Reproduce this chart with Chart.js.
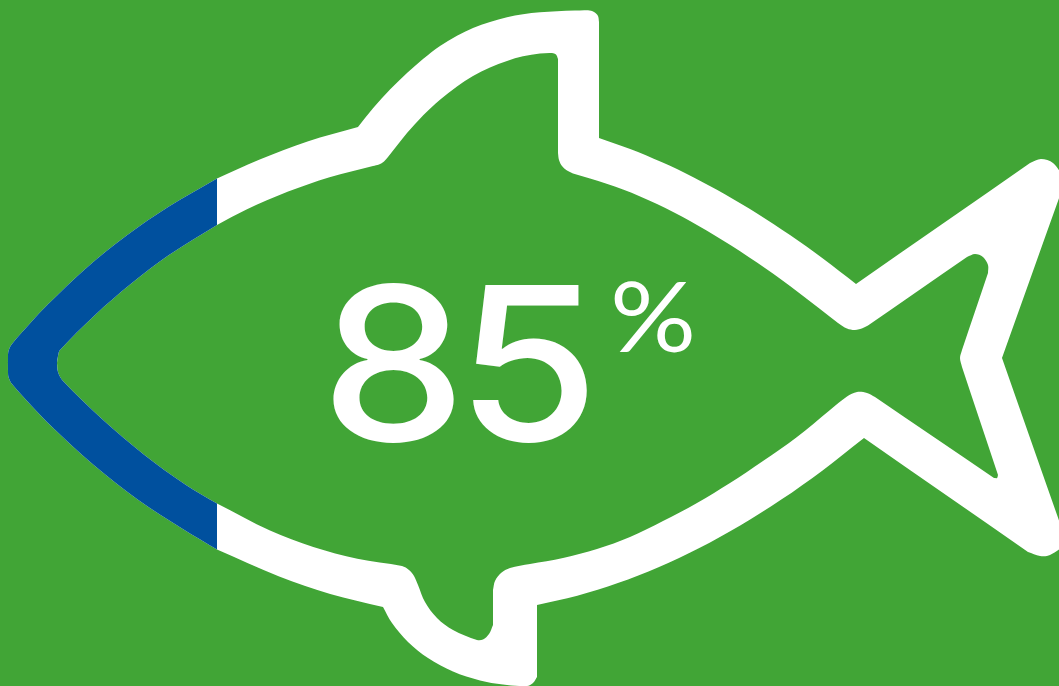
<!DOCTYPE html>
<html>
<head>
<meta charset="utf-8">
<script src="https://cdn.jsdelivr.net/npm/chart.js@4"></script>
<style>
    html, body { margin: 0; padding: 0; background: #41a536; overflow: hidden; }
    #fishChart { display: block; }
</style>
</head>
<body>
<canvas id="fishChart" width="1059" height="686"></canvas>
<script>
// fish silhouette, clockwise from the nose. Points listed twice stay sharp corners
const outerX = [8, 8.5, 12, 29.7, 48, 86.1, 126.3, 168.5, 217, 217, 259.1, 307.5, 358, 358, 373, 390, 407, 423, 440, 457, 473, 490, 507, 523, 540, 557, 575, 588, 594, 598, 599, 599, 599, 599, 630.2, 661.5, 693.3, 725.3, 757.5, 790, 822.9, 856, 856, 1030, 1030, 1041, 1053, 1063, 1063, 1063, 1002, 1002, 1063, 1063, 1063, 1050, 1040, 1028, 1028, 864, 864, 822.6, 781.3, 740.2, 699.3, 658.5, 617.9, 577.3, 537, 537, 537, 537, 533, 527, 503, 480, 453, 428, 408, 392, 383, 383, 330.2, 279.2, 217, 217, 182.8, 137.3, 93.7, 51.9, 31.7, 12, 8.5, 8, 8];
const outerY = [358, 351, 344, 323.8, 304.3, 268.2, 235.7, 206.8, 178.5, 178.5, 159.7, 141.5, 127, 127, 108.3, 89.6, 73, 59, 46, 35.7, 28, 21.9, 17.3, 14.3, 12.3, 11.3, 10.5, 10.3, 12, 16, 22, 22, 138, 138, 149, 162.1, 177.2, 194.5, 213.7, 235.1, 258.5, 284, 284, 163, 163, 159, 163, 178, 187, 187, 358, 358, 532, 532, 545, 555, 556, 552, 552, 438, 438, 470.4, 499.6, 525.5, 548, 567.2, 583.1, 595.7, 605, 605, 677, 677, 683, 686, 684.5, 680.5, 671.5, 658, 642, 623, 607, 607, 593.9, 576.5, 549.5, 549.5, 529, 499.2, 465, 426.7, 405.9, 384, 377, 371, 358];

// inner edge of the white band
const innerX = [57, 58, 60, 94.8, 131, 168.2, 217, 217, 246.5, 287.5, 329.6, 373, 379, 384, 388, 407, 423, 440, 457, 473, 490, 507, 523, 540, 552, 556, 558, 558, 558, 558, 559, 562, 567, 573, 573, 590, 623, 657, 690, 723, 757, 790, 820, 838, 847, 855, 863, 868, 868, 967, 967, 975, 983, 988, 988, 988, 962, 962, 960, 962, 962, 998, 998, 997, 994, 994, 875, 875, 867, 857, 847, 830, 797, 763, 730, 697, 663, 630, 597, 563, 530, 510, 501, 495, 493, 493, 493, 493, 489, 483, 477, 453, 437, 425, 418, 414, 409, 402, 357.4, 313.3, 270, 217, 217, 185.2, 143.8, 103.1, 63, 58, 57];
const innerY = [363, 356, 350, 315.2, 283.8, 255.6, 225, 225, 209.6, 191.8, 177.2, 166, 164.5, 161.5, 157, 133.1, 115.5, 99.7, 86.4, 76, 67.5, 60.9, 56.3, 53.6, 53, 54.5, 59, 59, 153, 153, 160, 166, 170.5, 173.5, 173.5, 178.5, 189.5, 204, 221, 240.5, 262.5, 286, 309, 323, 328.5, 330, 328, 325.5, 325.5, 257, 257, 254, 257, 265, 273, 273, 350, 350, 358, 367, 367, 475, 475, 478, 478, 478, 397, 397, 393, 392, 396.5, 410, 437, 461, 483, 503, 521, 537, 549, 558, 564, 568, 573, 581, 590, 590, 625, 625, 634, 639.5, 640, 630, 618, 602, 585, 576, 570, 566, 558.7, 547, 530.6, 503.5, 503.5, 484.4, 454.4, 420, 381, 372, 363];

// blue part at the nose, outer edge bottom to top then inner edge back down
const noseX = [217, 217, 182.8, 137.3, 93.7, 51.9, 31.7, 12, 8.5, 8, 8, 8.5, 12, 29.7, 48, 86.1, 126.3, 168.5, 217, 217, 217, 217, 168.2, 131, 94.8, 60, 58, 57, 58, 63, 103.1, 143.8, 185.2, 217, 217, 217];
const noseY = [549.5, 549.5, 529, 499.2, 465, 426.7, 405.9, 384, 377, 371, 358, 351, 344, 323.8, 304.3, 268.2, 235.7, 206.8, 178.5, 178.5, 225, 225, 255.6, 283.8, 315.2, 350, 356, 363, 372, 381, 420, 454.4, 484.4, 503.5, 503.5, 549.5];

const shareLabel = '85';
const unitLabel = '%';

const GREEN = '#41a536';
const WHITE = '#ffffff';
const BLUE = '#00509e';

const toPoints = (xs, ys) => xs.map((x, i) => ({x: x, y: ys[i]}));

const shape = (data, color, order) => ({
    data: data,
    order: order,
    showLine: true,
    fill: 'shape',
    backgroundColor: color,
    borderColor: color,
    borderWidth: 0,
    pointRadius: 0,
    tension: 0.33,
    capBezierPoints: false
});

// big number in the middle of the body, each digit placed on its own
const digitCenters = [393.5, 528];

const centerText = {
    id: 'centerText',
    afterDraw(chart) {
        const {ctx, scales: {x, y}} = chart;
        ctx.save();
        ctx.fillStyle = WHITE;
        ctx.textBaseline = 'alphabetic';
        ctx.textAlign = 'center';

        ctx.font = '500 214px Inter, sans-serif';
        Array.from(shareLabel).forEach((digit, i) => {
            ctx.save();
            ctx.translate(x.getPixelForValue(digitCenters[i]), y.getPixelForValue(441));
            ctx.scale(1.08, 1);
            ctx.fillText(digit, 0, 0);
            ctx.restore();
        });

        ctx.font = '96px Lato, sans-serif';
        ctx.translate(x.getPixelForValue(653), y.getPixelForValue(352));
        ctx.scale(1.12, 1);
        ctx.fillText(unitLabel, 0, 0);
        ctx.restore();
    }
};

new Chart(document.getElementById('fishChart'), {
    type: 'scatter',
    data: {
        datasets: [
            shape(toPoints(outerX, outerY), WHITE, 3),
            shape(toPoints(innerX, innerY), GREEN, 2),
            shape(toPoints(noseX, noseY), BLUE, 1)
        ]
    },
    options: {
        responsive: false,
        animation: false,
        layout: {padding: 0},
        scales: {
            x: {type: 'linear', min: 0, max: 1059, display: false},
            y: {type: 'linear', min: 0, max: 686, reverse: true, display: false}
        },
        plugins: {
            legend: {display: false},
            tooltip: {enabled: false}
        }
    },
    plugins: [centerText]
});
</script>
</body>
</html>
